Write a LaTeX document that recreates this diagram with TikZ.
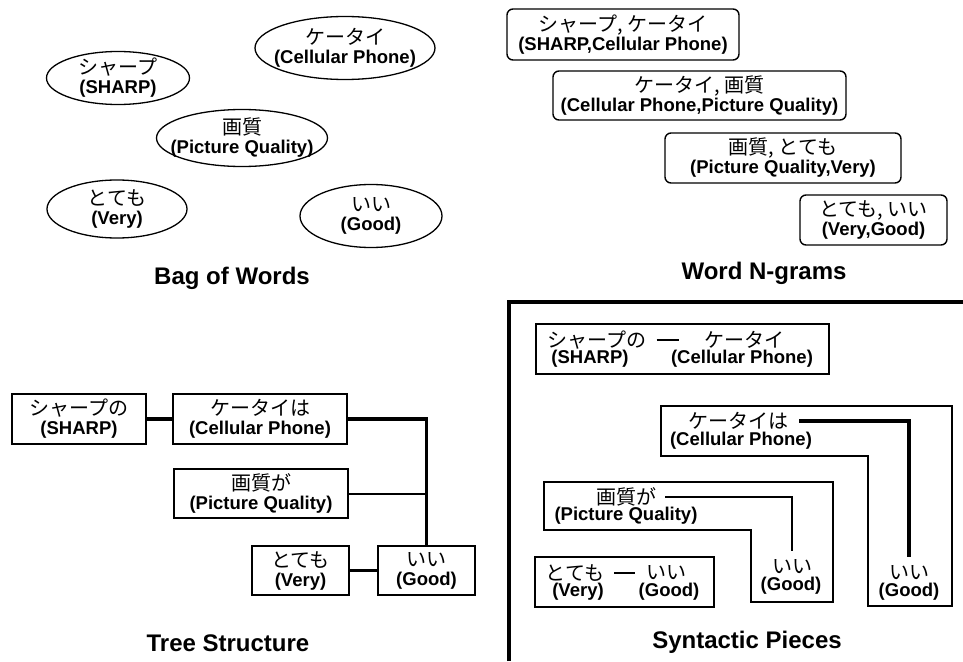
\documentclass[tikz,border=0pt]{standalone}
\usepackage{fontspec}
\setmainfont{Liberation Sans}
\newfontfamily\jpfont{Noto Sans CJK JP}
\newcommand\ja[1]{{\jpfont\mdseries\fontsize{20}{19}\selectfont #1}}

\begin{document}
\begin{tikzpicture}[x=1pt, y=-1pt,
    txt/.style={font=\fontsize{18.5}{19}\selectfont\bfseries, align=center, inner sep=0pt},
    ring/.style={draw, line width=1.3pt},
    gram/.style={txt, draw, rounded corners=6pt, line width=1.4pt},
    tbox/.style={txt, draw, line width=2.4pt},
    link/.style={line width=3.3pt},
    thinlink/.style={line width=2pt},
    piece/.style={draw, line width=1.6pt},
    dashline/.style={line width=1.6pt},
    title/.style={font=\fontsize{24}{26}\selectfont\bfseries}]
    \useasboundingbox (0,0) rectangle (963,661);

    \node[txt] (sharp) at (118,78) {\ja{シャープ}\\(SHARP)};
    \node[txt] (phone) at (345,48) {\ja{ケータイ}\\(Cellular Phone)};
    \node[txt] (quality) at (242,138) {\ja{画質}\\(Picture Quality)};
    \node[txt] (very) at (117,209) {\ja{とても}\\(Very)};
    \node[txt] (good) at (371,216) {\ja{いい}\\(Good)};
    \draw[ring] (sharp.center) ellipse (71.5 and 26.5);
    \draw[ring] (phone.center) ellipse (90 and 31.5);
    \draw[ring] (quality.center) ellipse (85.5 and 28.5);
    \draw[ring] (very.center) ellipse (70 and 29);
    \draw[ring] (good.center) ellipse (71 and 31.5);
    \node[title] (bagtitle) at (232,278) {Bag of Words};

    \node[gram, minimum width=232, minimum height=51] (g1) at (623,34.5) {\ja{シャープ, ケータイ}\\(SHARP,Cellular Phone)};
    \node[gram, minimum width=293, minimum height=49] (g2) at (699.5,95.5) {\ja{ケータイ, 画質}\\(Cellular Phone,Picture Quality)};
    \node[gram, minimum width=236, minimum height=50] (g3) at (783,158) {\ja{画質, とても}\\(Picture Quality,Very)};
    \node[gram, minimum width=147, minimum height=50] (g4) at (873.5,220) {\ja{とても, いい}\\(Very,Good)};
    \node[title] (gramtitle) at (764,273) {Word N-grams};

    \node[tbox, minimum width=134, minimum height=50] (t1) at (79,419) {\ja{シャープの}\\(SHARP)};
    \node[tbox, minimum width=174, minimum height=50] (t2) at (260,419) {\ja{ケータイは}\\(Cellular Phone)};
    \node[tbox, minimum width=174, minimum height=49] (t3) at (261,493.5) {\ja{画質が}\\(Picture Quality)};
    \node[tbox, minimum width=97, minimum height=49] (t4) at (300.5,570.5) {\ja{とても}\\(Very)};
    \node[tbox, minimum width=97, minimum height=49] (t5) at (426.5,570.5) {\ja{いい}\\(Good)};
    \draw[link] (t1) -- (t2);
    \draw[link] (t2) -| (t5);
    \draw[thinlink] (t3) -- (t3 -| t5);
    \draw[link] (t4) -- (t5);
    \node[title] (treetitle) at (228,643) {Tree Structure};

    \draw[line width=3.2pt] (509,661) -- (509,302) -- (963,302);

    \draw[piece] (536,324) rectangle (829,374);
    \node[txt] (a1) at (597,340) {\ja{シャープの}};
    \node[txt] (a1e) at (590,359) {(SHARP)};
    \node[txt] (a2) at (744,340) {\ja{ケータイ}};
    \node[txt] (a2e) at (742,359) {(Cellular Phone)};
    \draw[dashline, shorten <=10pt, shorten >=25pt] (a1) -- (a2);

    \draw[piece] (661,406) -- (952,406) -- (952,606) -- (868,606) -- (868,456) -- (661,456) -- cycle;
    \node[txt] (b1) at (738,421) {\ja{ケータイは}};
    \node[txt] (b1e) at (741,441) {(Cellular Phone)};
    \node[txt] (b2) at (909,573) {\ja{いい}};
    \node[txt] (b2e) at (909,592) {(Good)};
    \draw[link, shorten <=11pt, shorten >=16pt] (b1) -| (b2.center);

    \draw[piece] (544,482) -- (833,482) -- (833,602) -- (751,602) -- (751,530) -- (544,530) -- cycle;
    \node[txt] (c1) at (626,497) {\ja{画質が}};
    \node[txt] (c1e) at (626,516) {(Picture Quality)};
    \node[txt] (c2) at (792,567) {\ja{いい}};
    \node[txt] (c2e) at (791,586) {(Good)};
    \draw[thinlink, shorten <=9pt, shorten >=16pt] (c1) -| (c2.center);

    \draw[piece] (535,557) rectangle (714,607);
    \node[txt] (d1) at (575,573) {\ja{とても}};
    \node[txt] (d1e) at (578,592) {(Very)};
    \node[txt] (d2) at (666,573) {\ja{いい}};
    \node[txt] (d2e) at (669,592) {(Good)};
    \draw[dashline, shorten <=10pt, shorten >=11pt] (d1) -- (d2);
    \node[title] (piecetitle) at (747,642) {Syntactic Pieces};
  \end{tikzpicture}
\end{document}
